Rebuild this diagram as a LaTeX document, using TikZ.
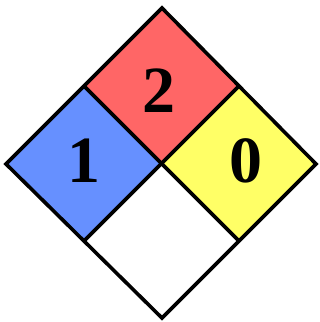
\documentclass[tikz,border=0pt]{standalone}
\usepackage{fontspec}
\setmainfont{Liberation Serif}
\definecolor{nfred}{HTML}{FF6666}
\definecolor{nfblue}{HTML}{6690FF}
\definecolor{nfyellow}{HTML}{FFFF66}
\begin{document}
\begin{tikzpicture}[x=1pt,y=-1pt,
  quad/.style={draw=black,line width=3.6pt,line join=miter},
  digit/.style={inner sep=0pt,font=\fontsize{66}{66}\selectfont\bfseries}]
\useasboundingbox (0,0) rectangle (320,322);
\coordinate (T) at (162,8);
\coordinate (L) at (6,164);
\coordinate (R) at (316,164);
\coordinate (B) at (162,318);
\coordinate (C) at (162,164);
\coordinate (TL) at (84,86);
\coordinate (TR) at (239,86);
\coordinate (BL) at (84,241);
\coordinate (BR) at (239,241);
\fill[nfred] (T) -- (TR) -- (C) -- (TL) -- cycle;
\fill[nfblue] (TL) -- (C) -- (BL) -- (L) -- cycle;
\fill[nfyellow] (TR) -- (R) -- (BR) -- (C) -- cycle;
\fill[white] (C) -- (BR) -- (B) -- (BL) -- cycle;
\draw[quad] (T) -- (R) -- (B) -- (L) -- cycle;
\draw[quad] (TL) -- (BR);
\draw[quad] (TR) -- (BL);
\node[digit] (health) at (84,161) {1};
\node[digit] (fire) at (159,91) {2};
\node[digit] (reactivity) at (246,161) {0};
\end{tikzpicture}
\end{document}
